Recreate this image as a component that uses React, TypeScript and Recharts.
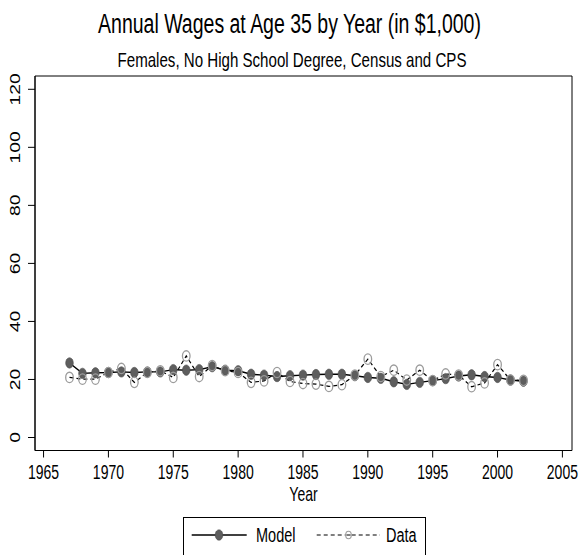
import React from 'react';
import { ComposedChart, Line, XAxis, YAxis, ReferenceArea } from 'recharts';

const years = [1967, 1968, 1969, 1970, 1971, 1972, 1973, 1974, 1975, 1976, 1977, 1978, 1979, 1980, 1981, 1982, 1983, 1984, 1985, 1986, 1987, 1988, 1989, 1990, 1991, 1992, 1993, 1994, 1995, 1996, 1997, 1998, 1999, 2000, 2001, 2002];
const modelValues = [25.7, 22.1, 22.3, 22.4, 22.6, 22.4, 22.6, 22.6, 23.4, 23.2, 23.4, 24.4, 23.2, 23.0, 21.8, 21.5, 21.0, 21.3, 21.5, 21.7, 21.8, 21.8, 21.3, 20.7, 20.4, 19.2, 18.3, 19.0, 19.6, 20.3, 21.2, 21.6, 21.0, 20.7, 19.8, 19.4];
const dataValues = [20.7, 20.1, 20.1, 22.4, 23.8, 19.0, 22.4, 23.0, 20.7, 28.1, 21.0, 24.8, 23.0, 22.4, 19.0, 19.5, 22.4, 19.3, 18.6, 18.4, 17.6, 18.2, 21.5, 27.0, 21.0, 23.2, 19.8, 23.2, 19.6, 21.9, 21.5, 17.5, 18.8, 25.1, 19.8, 19.7];
const xTicks = [1965, 1970, 1975, 1980, 1985, 1990, 1995, 2000, 2005];
const yTicks = [0, 20, 40, 60, 80, 100, 120];

const titleText = 'Annual Wages at Age 35 by Year (in $1,000)';
const subtitleText = 'Females, No High School Degree, Census and CPS';
const xAxisTitle = 'Year';
const legendModel = 'Model';
const legendData = 'Data';

const rows = years.map((year, i) => ({ year, model: modelValues[i], data: dataValues[i] }));

const X_MIN = 1964.34;
const X_MAX = 2005.74;
const Y_MIN = -4.48;
const Y_MAX = 124.58;

const FONT = '"Liberation Sans", Arial, Helvetica, sans-serif';
const SY = 1.38;

const XTick = (p: any) => (
  <text
    transform={`translate(${p.x},479) scale(1,${SY})`}
    textAnchor="middle"
    fontFamily={FONT}
    fontSize={14}
    fill="#000"
  >
    {p.payload.value}
  </text>
);

const YTick = (p: any) => (
  <text
    transform={`translate(20,${p.y}) scale(1,${SY}) rotate(-90)`}
    textAnchor="middle"
    fontFamily={FONT}
    fontSize={14}
    fill="#000"
  >
    {p.payload.value}
  </text>
);

const modelDot = (p: any) => (
  <ellipse key={`m${p.index}`} cx={p.cx} cy={p.cy} rx={3.8} ry={5.2} fill="#5e5e5e" stroke="#4a4a4a" strokeWidth={0.6} />
);

const dataDot = (p: any) => (
  <ellipse key={`d${p.index}`} cx={p.cx} cy={p.cy} rx={3.8} ry={5.2} fill="none" stroke="#9c9c9c" strokeWidth={1.3} />
);

export default function App() {
  return (
    <div style={{ position: 'absolute', left: 0, top: 0, width: 579, height: 555, background: '#fff' }}>
      <ComposedChart
        width={579}
        height={555}
        data={rows}
        margin={{ top: 76, right: 7, left: 0, bottom: 0 }}
      >
        <XAxis
          type="number"
          dataKey="year"
          domain={[X_MIN, X_MAX]}
          ticks={xTicks}
          interval={0}
          allowDataOverflow
          height={104.5}
          tickSize={7}
          tick={XTick}
          axisLine={{ stroke: '#000', strokeWidth: 1 }}
          tickLine={{ stroke: '#000', strokeWidth: 1 }}
        />
        <YAxis
          type="number"
          domain={[Y_MIN, Y_MAX]}
          ticks={yTicks}
          interval={0}
          allowDataOverflow
          width={35}
          tickSize={7}
          tick={YTick}
          axisLine={{ stroke: '#000', strokeWidth: 1 }}
          tickLine={{ stroke: '#000', strokeWidth: 1 }}
        />
        <ReferenceArea
          x1={X_MIN}
          x2={X_MAX}
          y1={Y_MIN}
          y2={Y_MAX}
          fill="none"
          stroke="#000"
          strokeWidth={1}
          ifOverflow="visible"
        />
        <Line
          type="linear"
          dataKey="model"
          stroke="#000"
          strokeWidth={1.4}
          dot={modelDot}
          activeDot={false}
          isAnimationActive={false}
        />
        <Line
          type="linear"
          dataKey="data"
          stroke="#000"
          strokeWidth={1.2}
          strokeDasharray="4 3"
          dot={dataDot}
          activeDot={false}
          isAnimationActive={false}
        />
      </ComposedChart>
      <svg
        width={579}
        height={555}
        style={{ position: 'absolute', left: 0, top: 0, pointerEvents: 'none' }}
      >
        <text transform={`translate(289.5,33.3) scale(1,${SY})`} textAnchor="middle" fontFamily={FONT} fontSize={19.5} fill="#000">
          {titleText}
        </text>
        <text transform={`translate(292,66.5) scale(1,${SY})`} textAnchor="middle" fontFamily={FONT} fontSize={15.1} fill="#000">
          {subtitleText}
        </text>
        <text transform={`translate(303.5,501) scale(1,${SY})`} textAnchor="middle" fontFamily={FONT} fontSize={14} fill="#000">
          {xAxisTitle}
        </text>
        <rect x={183.5} y={517.5} width={242} height={60} fill="#fff" stroke="#000" strokeWidth={1} />
        <line x1={191.7} x2={246.7} y1={535} y2={535} stroke="#000" strokeWidth={1.4} />
        <ellipse cx={219} cy={535} rx={3.8} ry={5.2} fill="#5e5e5e" stroke="#4a4a4a" strokeWidth={0.6} />
        <text transform={`translate(256,542.3) scale(1,${SY})`} fontFamily={FONT} fontSize={14.5} fill="#000">
          {legendModel}
        </text>
        <line x1={316.7} x2={380} y1={535} y2={535} stroke="#000" strokeWidth={1.2} strokeDasharray="4 3" />
        <ellipse cx={348.5} cy={535} rx={2.8} ry={3.8} fill="#fff" stroke="#9c9c9c" strokeWidth={1.1} />
        <line x1={346.5} x2={350.5} y1={535} y2={535} stroke="#000" strokeWidth={1} />
        <text transform={`translate(386,542.3) scale(1,${SY})`} fontFamily={FONT} fontSize={14.5} fill="#000">
          {legendData}
        </text>
      </svg>
    </div>
  );
}
